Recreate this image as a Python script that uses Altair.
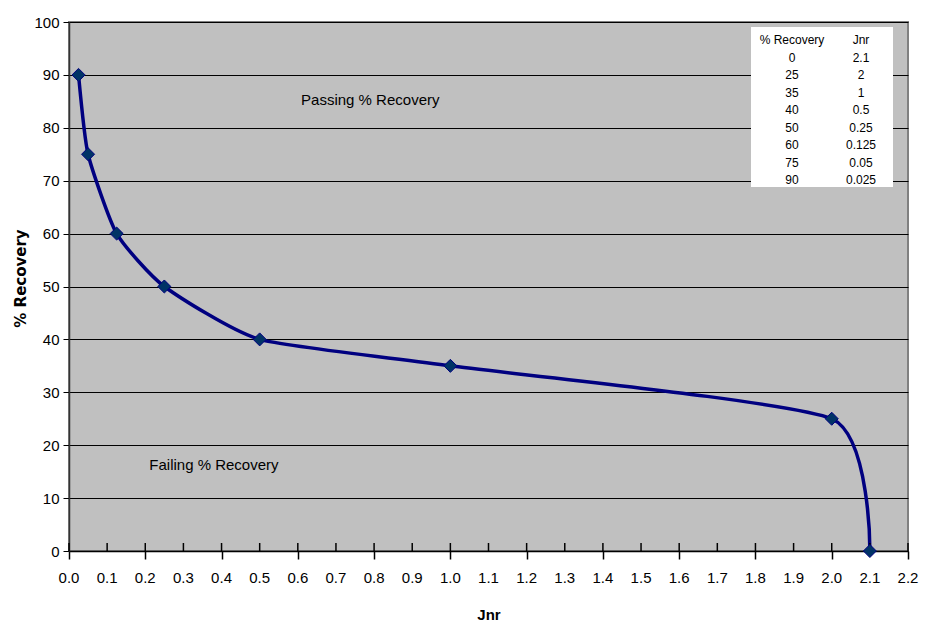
import altair as alt
import pandas as pd

recovery = [0, 25, 35, 40, 50, 60, 75, 90]
jnr = [2.1, 2, 1, 0.5, 0.25, 0.125, 0.05, 0.025]
recovery_labels = ["0", "25", "35", "40", "50", "60", "75", "90"]
jnr_labels = ["2.1", "2", "1", "0.5", "0.25", "0.125", "0.05", "0.025"]
x_ticks = [round(i * 0.1, 1) for i in range(23)]

df = pd.DataFrame({"jnr": jnr, "rec": recovery}).sort_values("jnr")

notes = pd.DataFrame({
    "jnr": [0.79, 0.38],
    "rec": [85.3, 16.3],
    "label": ["Passing % Recovery", "Failing % Recovery"],
})

table = pd.DataFrame({
    "row": list(range(9)),
    "c1": ["% Recovery"] + recovery_labels,
    "c2": ["Jnr"] + jnr_labels,
})

FONT = "Liberation Sans"
W, H = 839, 529

xenc = alt.X("jnr:Q", title="Jnr",
             scale=alt.Scale(domain=[0, 2.2], nice=False, zero=False),
             axis=alt.Axis(values=x_ticks, labels=False,
                           grid=False, tickSize=8, tickColor="black", tickWidth=1.5,
                           domainColor="black", domainWidth=1.5,
                           titleFont=FONT, titleFontSize=15,
                           titleFontWeight="bold", titlePadding=48, titleColor="black"))
yenc = alt.Y("rec:Q", title="% Recovery",
             scale=alt.Scale(domain=[0, 100], nice=False),
             axis=alt.Axis(values=list(range(0, 101, 10)), grid=True, gridColor="black",
                           gridWidth=1, tickSize=6, tickColor="black", labelOverlap=False,
                           labelFlush=False,
                           domainColor="#333333", domainWidth=1.5,
                           labelFontSize=15, labelPadding=4, labelColor="black",
                           labelFont=FONT, titleFont="DejaVu Sans", titleFontSize=15,
                           titleFontWeight="bold", titlePadding=5, titleColor="black",
                           titleY=256))

line = alt.Chart(df).mark_line(color="#000080", strokeWidth=3.5,
                               interpolate="cardinal", tension=0.45).encode(x=xenc, y=yenc)
pts = alt.Chart(df).mark_point(shape="diamond", filled=True, size=170, color="#003366",
                               opacity=1, stroke="#000080", strokeWidth=1).encode(x="jnr:Q", y="rec:Q")
txt = alt.Chart(notes).mark_text(font=FONT, fontSize=15, color="black").encode(
    x="jnr:Q", y="rec:Q", text="label:N")
ticks_df = pd.DataFrame({"jnr": x_ticks})
inner_ticks = alt.Chart(ticks_df).mark_rule(color="black", strokeWidth=1.5).encode(
    x="jnr:Q", y=alt.value(H - 8), y2=alt.value(H))
xlabels = alt.Chart(ticks_df).mark_text(font=FONT, fontSize=15, color="black",
                                        baseline="middle").encode(
    x="jnr:Q", y=alt.value(H + 27), text=alt.Text("jnr:Q", format=".1f"))

box = alt.Chart(pd.DataFrame({"a": [1]})).mark_rect(color="white").encode(
    x=alt.value(W - 157), x2=alt.value(W - 15), y=alt.value(5), y2=alt.value(165))

rowy = alt.Y("row:O", scale=alt.Scale(type="point", domain=list(range(9)), range=[18, 158], padding=0),
             axis=None)
col1 = alt.Chart(table).mark_text(font=FONT, fontSize=12, color="black").encode(
    x=alt.value(W - 116), y=rowy, text="c1:N")
col2 = alt.Chart(table).mark_text(font=FONT, fontSize=12, color="black").encode(
    x=alt.value(W - 47), y=rowy, text="c2:N")

main = alt.layer(line, inner_ticks, xlabels, pts, txt)
tbl = alt.layer(box, col1, col2)

chart = alt.layer(main, tbl).resolve_scale(y="independent").properties(
    width=W, height=H,
    autosize=alt.AutoSizeParams(type="none"),
    padding={"left": 61, "top": 14, "right": 11, "bottom": 71},
    background="white",
).configure_view(fill="#C0C0C0", stroke="#808080", strokeWidth=2)

chart.save("out.html", embed_options={"renderer": "svg", "actions": False})
